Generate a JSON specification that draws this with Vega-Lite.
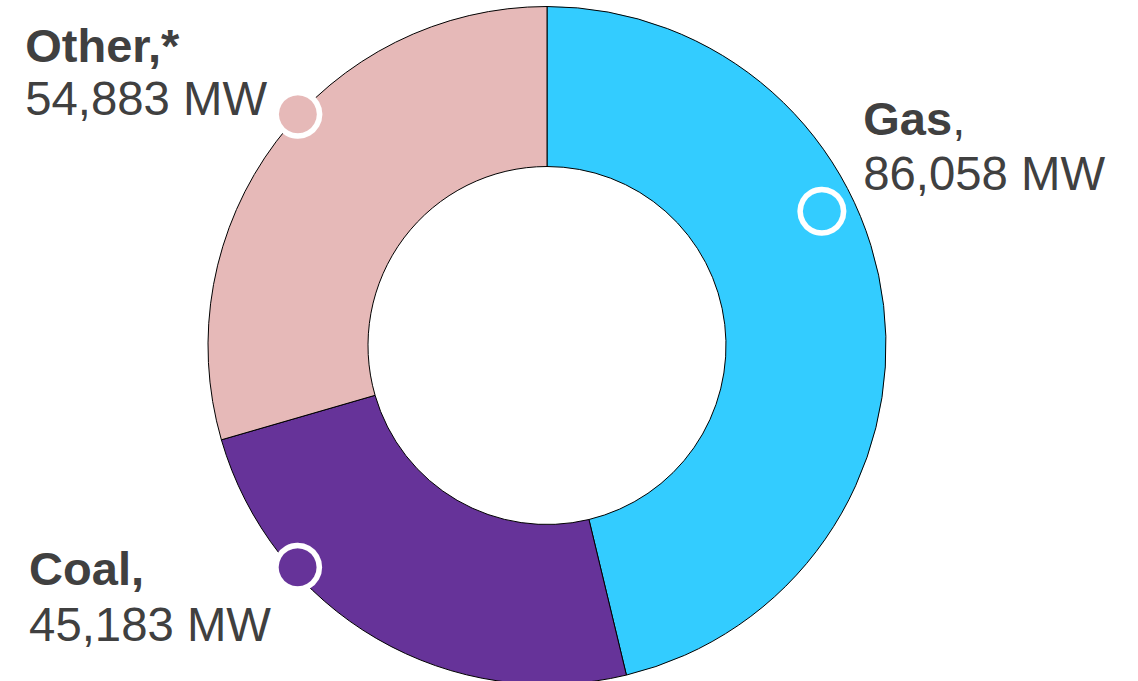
{
  "$schema": "https://vega.github.io/schema/vega-lite/v6.json",
  "width": 1094,
  "height": 671,
  "autosize": {"type": "none"},
  "padding": {"left": 0, "top": 10, "right": 44, "bottom": 0},
  "background": "white",
  "view": {"stroke": null},
  "data": {
    "values": [
      {"cat": "Gas", "value": 86058, "order": 1, "title": "Gas", "suffix": ",", "mw": "86,058 MW"},
      {"cat": "Coal", "value": 45183, "order": 2, "title": "Coal,", "suffix": "", "mw": "45,183 MW"},
      {"cat": "Other", "value": 54883, "order": 3, "title": "Other,*", "suffix": "", "mw": "54,883 MW"}
    ]
  },
  "encoding": {
    "theta": {"field": "value", "type": "quantitative", "stack": true},
    "order": {"field": "order", "type": "ordinal"},
    "detail": {"field": "cat", "type": "nominal"}
  },
  "layer": [
    {
      "mark": {"type": "arc", "outerRadius": 339, "innerRadius": 179, "stroke": "black", "strokeWidth": 1},
      "encoding": {
        "color": {
          "field": "cat", "type": "nominal",
          "scale": {"domain": ["Gas", "Coal", "Other"], "range": ["#33CCFF", "#663399", "#E6B9B8"]},
          "legend": null
        }
      }
    },
    {
      "mark": {"type": "text", "radius": 306, "dx": -29, "dy": -100.5, "font": "DejaVu Sans", "fontSize": 57, "baseline": "middle", "align": "center", "stroke": "white", "strokeWidth": 5.5},
      "encoding": {
        "text": {"condition": {"test": "datum.cat === 'Gas'", "value": "●"}, "value": ""},
        "color": {"field": "cat", "type": "nominal", "legend": null}
      }
    },
    {
      "mark": {"type": "text", "radius": 333, "dx": -82, "dy": -68.5, "font": "DejaVu Sans", "fontSize": 57, "baseline": "middle", "align": "center", "stroke": "white", "strokeWidth": 5.5},
      "encoding": {
        "text": {"condition": {"test": "datum.cat === 'Coal'", "value": "●"}, "value": ""},
        "color": {"field": "cat", "type": "nominal", "legend": null}
      }
    },
    {
      "mark": {"type": "text", "radius": 339, "dx": 22, "dy": -30, "font": "DejaVu Sans", "fontSize": 57, "baseline": "middle", "align": "center", "stroke": "white", "strokeWidth": 5.5},
      "encoding": {
        "text": {"condition": {"test": "datum.cat === 'Other'", "value": "●"}, "value": ""},
        "color": {"field": "cat", "type": "nominal", "legend": null}
      }
    },
    {
      "mark": {"type": "text", "radius": 400, "dx": -81, "dy": -163.5, "font": "Liberation Sans", "fontSize": 47, "fontWeight": "bold", "align": "left", "baseline": "alphabetic", "color": "#404040"},
      "encoding": {"text": {"condition": {"test": "datum.cat === 'Gas'", "field": "title"}, "value": ""}}
    },
    {
      "mark": {"type": "text", "radius": 400, "dx": 8, "dy": -163.5, "font": "Liberation Sans", "fontSize": 47, "align": "left", "baseline": "alphabetic", "color": "#404040"},
      "encoding": {"text": {"condition": {"test": "datum.cat === 'Gas'", "field": "suffix"}, "value": ""}}
    },
    {
      "mark": {"type": "text", "radius": 400, "dx": -81, "dy": -108.5, "font": "Liberation Sans", "fontSize": 47.3, "align": "left", "baseline": "alphabetic", "color": "#404040"},
      "encoding": {"text": {"condition": {"test": "datum.cat === 'Gas'", "field": "mw"}, "value": ""}}
    },
    {
      "mark": {"type": "text", "radius": 400, "dx": -202, "dy": -43, "font": "Liberation Sans", "fontSize": 47, "fontWeight": "bold", "align": "left", "baseline": "alphabetic", "color": "#404040"},
      "encoding": {"text": {"condition": {"test": "datum.cat === 'Other'", "field": "title"}, "value": ""}}
    },
    {
      "mark": {"type": "text", "radius": 400, "dx": -202, "dy": 10, "font": "Liberation Sans", "fontSize": 47.3, "align": "left", "baseline": "alphabetic", "color": "#404040"},
      "encoding": {"text": {"condition": {"test": "datum.cat === 'Other'", "field": "mw"}, "value": ""}}
    },
    {
      "mark": {"type": "text", "radius": 400, "dx": -317, "dy": -106.5, "font": "Liberation Sans", "fontSize": 47, "fontWeight": "bold", "align": "left", "baseline": "alphabetic", "color": "#404040"},
      "encoding": {"text": {"condition": {"test": "datum.cat === 'Coal'", "field": "title"}, "value": ""}}
    },
    {
      "mark": {"type": "text", "radius": 400, "dx": -317, "dy": -50.5, "font": "Liberation Sans", "fontSize": 47.3, "align": "left", "baseline": "alphabetic", "color": "#404040"},
      "encoding": {"text": {"condition": {"test": "datum.cat === 'Coal'", "field": "mw"}, "value": ""}}
    }
  ]
}
